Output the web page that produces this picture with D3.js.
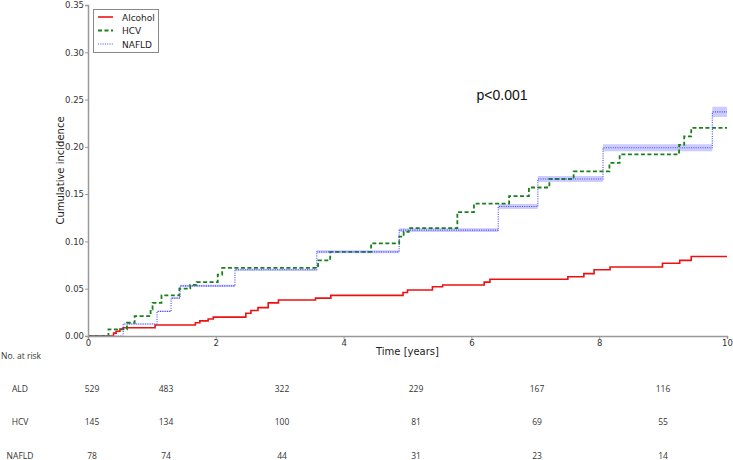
<!DOCTYPE html>
<html><head><meta charset="utf-8">
<script src="https://cdn.jsdelivr.net/npm/d3@7/dist/d3.min.js"></script>
<style>body{margin:0;background:#fff}svg{display:block}</style>
</head><body><svg id="c" width="733" height="460"></svg>
<script>
// ---- data ----
const alcoholT = [0,0.40,0.44,0.50,0.55,1.05,1.68,1.75,1.88,1.96,2.47,2.55,2.66,2.82,2.98,3.56,3.80,4.93,5.00,5.39,5.55,6.20,6.29,7.51,7.76,7.92,8.17,8.99,9.26,9.44,10];
const alcoholV = [0,0.003,0.005,0.0074,0.0088,0.0116,0.014,0.016,0.018,0.020,0.024,0.027,0.030,0.035,0.038,0.040,0.043,0.046,0.0486,0.052,0.054,0.057,0.060,0.0627,0.066,0.070,0.073,0.077,0.080,0.084,0.084];
const hcvT = [0,0.32,0.61,0.73,0.98,1.01,1.15,1.43,1.60,1.70,2.03,2.10,3.60,3.79,4.43,4.87,4.94,5.02,5.78,6.04,6.59,6.90,7.22,7.60,8.16,8.32,9.25,9.33,9.44,10];
const hcvV = [0,0.007,0.014,0.021,0.028,0.035,0.043,0.050,0.054,0.057,0.065,0.072,0.080,0.089,0.098,0.105,0.110,0.114,0.131,0.140,0.148,0.157,0.166,0.174,0.183,0.192,0.202,0.211,0.220,0.220];
const nafldT = [0,0.55,1.08,1.30,1.44,2.30,3.58,4.87,6.42,7.04,8.06,9.77,10];
const nafldV = [0,0.0127,0.026,0.040,0.053,0.070,0.089,0.112,0.137,0.166,0.199,0.237,0.237];
const nafldLo = [0,0.0122,0.0253,0.039,0.0518,0.0688,0.0874,0.110,0.1343,0.1628,0.1953,0.2317,0.2317];
const nafldHi = [0,0.0132,0.0267,0.041,0.0542,0.0712,0.0906,0.114,0.1397,0.1692,0.2027,0.2423,0.2423];
const seriesNames = ["Alcohol","HCV","NAFLD"];
const xTicks = [0,2,4,6,8,10];
const yTicks = [0,0.05,0.10,0.15,0.20,0.25,0.30,0.35];
const riskGroups = ["ALD","HCV","NAFLD"];
const riskALD = [529,483,322,229,167,116];
const riskHCV = [145,134,100,81,69,55];
const riskNAFLD = [78,74,44,31,23,14];
const pText = "p<0.001";

// ---- layout ----
const svg = d3.select("#c");
const L = 88, R = 727, T = 5, B = 336;
const x = d3.scaleLinear().domain([0,10]).range([L,R]);
const y = d3.scaleLinear().domain([0,0.35]).range([B,T]);
const axisCol = "#999", txtCol = "#333";

// band
const band = nafldT.map((t,i)=>({t,lo:nafldLo[i],hi:nafldHi[i]}));
svg.append("path").datum(band)
  .attr("d", d3.area().curve(d3.curveStepAfter).x(d=>x(d.t)).y0(d=>y(d.lo)).y1(d=>y(d.hi)))
  .attr("fill","rgba(110,110,255,0.35)");

const line = d3.line().curve(d3.curveStepAfter).x(d=>x(d[0])).y(d=>y(d[1]));
const styles = [
  {c:"#ee1111", w:1.6, dash:null},
  {c:"#1a801a", w:1.8, dash:"4,2.5"},
  {c:"#4444ff", w:1.1, dash:"1,1.3"}
];
const sets = [[alcoholT,alcoholV],[hcvT,hcvV],[nafldT,nafldV]];
sets.forEach((s,i)=>{
  const pts = s[0].map((t,j)=>[t,s[1][j]]);
  svg.append("path").datum(pts).attr("d",line)
    .attr("fill","none").attr("stroke",styles[i].c).attr("stroke-width",styles[i].w)
    .attr("stroke-dasharray",styles[i].dash);
});

// axes
const xa = svg.append("g").attr("transform",`translate(0,${B})`)
  .call(d3.axisBottom(x).tickValues(xTicks).tickSize(3).tickPadding(1).tickFormat(d3.format("d")));
const ya = svg.append("g").attr("transform",`translate(${L},0)`)
  .call(d3.axisLeft(y).tickValues(yTicks).tickSize(3).tickPadding(1).tickFormat(d3.format(".2f")));
[xa,ya].forEach(g=>{
  g.select(".domain").attr("stroke",axisCol).attr("stroke-width",1.5);
  g.selectAll(".tick line").attr("stroke",axisCol);
  g.selectAll("text").attr("fill",txtCol).style("font-family","DejaVu Sans").style("font-size","8.5px");
});

svg.append("text").attr("x",(L+R)/2).attr("y",355).attr("text-anchor","middle")
  .style("font-family","DejaVu Sans").style("font-size","10px").attr("fill","#222").text("Time [years]");
svg.append("text").attr("transform",`translate(64,${(T+B)/2}) rotate(-90)`).attr("text-anchor","middle")
  .style("font-family","DejaVu Sans").style("font-size","10px").attr("fill","#222").text("Cumulative incidence");

svg.append("text").attr("x",502).attr("y",100).attr("text-anchor","middle")
  .style("font-family","Liberation Sans").style("font-size","14px").attr("fill","#111").text(pText);

// legend
const lg = svg.append("g");
lg.append("rect").attr("x",93.5).attr("y",9.5).attr("width",65).attr("height",43)
  .attr("fill","#fff").attr("stroke","#888").attr("stroke-width",1);
seriesNames.forEach((n,i)=>{
  const yy = 17 + i*13.5;
  lg.append("line").attr("x1",98).attr("x2",113).attr("y1",yy).attr("y2",yy)
    .attr("stroke",styles[i].c).attr("stroke-width",styles[i].w).attr("stroke-dasharray",styles[i].dash);
  lg.append("text").attr("x",122).attr("y",yy+3.5).style("font-family","DejaVu Sans").style("font-size","9px")
    .attr("fill","#222").text(n);
});

// risk table
const colX = [92,166,282,416,537,663];
const rowY = [392,425,459];
const tf = "Open Sans";
svg.append("text").attr("x",1).attr("y",359).style("font-family",tf).style("font-size","8.5px").attr("fill",txtCol).text("No. at risk");
[riskALD,riskHCV,riskNAFLD].forEach((row,r)=>{
  svg.append("text").attr("x",20).attr("y",rowY[r]).attr("text-anchor","middle")
    .style("font-family",tf).style("font-size","8.5px").attr("fill",txtCol).text(riskGroups[r]);
  row.forEach((v,c)=>{
    svg.append("text").attr("x",colX[c]).attr("y",rowY[r]).attr("text-anchor","middle")
      .style("font-family",tf).style("font-size","8.5px").attr("fill",txtCol).text(v);
  });
});
</script></body></html>
